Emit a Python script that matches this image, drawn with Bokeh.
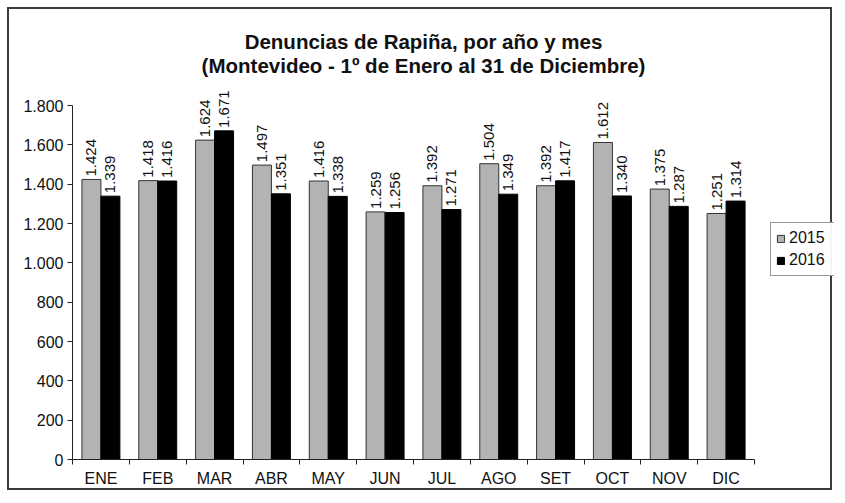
import math
from bokeh.plotting import figure
from bokeh.models import (Range1d, FixedTicker, CustomJSTickFormatter, Label,
                          Legend, LegendItem, ColumnDataSource)
from bokeh.core.properties import value
from bokeh.embed import file_html
from bokeh.resources import INLINE

months = ["ENE", "FEB", "MAR", "ABR", "MAY", "JUN", "JUL", "AGO", "SET", "OCT", "NOV", "DIC"]
y2015 = [1424, 1418, 1624, 1497, 1416, 1259, 1392, 1504, 1392, 1612, 1375, 1251]
y2016 = [1339, 1416, 1671, 1351, 1338, 1256, 1271, 1349, 1417, 1340, 1287, 1314]
y_ticks = [0, 200, 400, 600, 800, 1000, 1200, 1400, 1600, 1800]
series_names = ["2015", "2016"]
title_lines = ["Denuncias de Rapiña, por año y mes",
               "(Montevideo - 1º de Enero al 31 de Diciembre)"]

FONT = "Liberation Sans"
OFF = 9                      # canvas offset inside the bordered box
W, H = 825, 483
# geometry in canvas pixels
AX_LEFT, AX_RIGHT, AX_TOP, AX_BOTTOM = 72 - OFF, 754 - OFF, 105 - OFF, 459 - OFF
YMAX, NCAT = 1800, len(months)

frame_w = W - AX_LEFT
frame_h = AX_BOTTOM
x_end = NCAT * frame_w / (AX_RIGHT - AX_LEFT)
y_end = YMAX * frame_h / (AX_BOTTOM - AX_TOP)

def fmt(v):
    return f"{v:,}".replace(",", ".")

p = figure(width=W, height=H, output_backend="svg", toolbar_location=None,
           x_range=Range1d(0, x_end), y_range=Range1d(0, y_end),
           min_border_left=AX_LEFT, min_border_right=0, min_border_top=0,
           min_border_bottom=H - AX_BOTTOM)
p.styles = {"border": "2px solid #3c3c3c", "position": "relative",
            "left": "7px", "top": "7px"}
p.outline_line_color = None
p.grid.visible = False
p.background_fill_color = "white"
p.border_fill_color = "white"

bw = 0.334
centers = [i + 0.5 for i in range(NCAT)]
src = ColumnDataSource(dict(
    x1=[c - bw / 2 for c in centers], x2=[c + bw / 2 for c in centers],
    y1=y2015, y2=y2016,
    t1=[fmt(v) for v in y2015], t2=[fmt(v) for v in y2016],
    ty1=[v + 15 for v in y2015], ty2=[v + 15 for v in y2016],
))

r1 = p.vbar(x="x1", top="y1", bottom=0, width=bw, source=src,
            fill_color="#b3b3b3", line_color="#333333", line_width=1)
r2 = p.vbar(x="x2", top="y2", bottom=0, width=bw, source=src,
            fill_color="#000000", line_color="#000000", line_width=1)

for xs, ys, ts in (("x1", "ty1", "t1"), ("x2", "ty2", "t2")):
    p.text(x=xs, y=ys, text=ts, source=src, angle=math.pi / 2,
           text_align="left", text_baseline="middle",
           text_font=value(FONT), text_font_size="15px", text_color="#111111")

# x axis
xa = p.xaxis[0]
xa.bounds = (0, NCAT)
xa.ticker = FixedTicker(ticks=centers, minor_ticks=list(range(NCAT + 1)))
xa.formatter = CustomJSTickFormatter(args=dict(names=months),
                                     code="return names[Math.floor(tick)];")
xa.major_tick_out = 0
xa.major_tick_in = 0
xa.minor_tick_out = 5
xa.minor_tick_in = 0
xa.minor_tick_line_color = "#222222"
xa.major_label_standoff = 5
xa.axis_line_color = "#222222"
xa.major_label_text_font = FONT
xa.major_label_text_font_size = "16px"
xa.major_label_text_color = "#111111"

ya = p.yaxis[0]
ya.bounds = (0, YMAX)
ya.ticker = FixedTicker(ticks=y_ticks, minor_ticks=[])
ya.formatter = CustomJSTickFormatter(code="""
if (tick >= 1000) { return Math.floor(tick/1000) + '.' + String(tick % 1000).padStart(3, '0'); }
return String(tick);""")
ya.major_tick_out = 5
ya.major_tick_in = 0
ya.minor_tick_out = 0
ya.major_tick_line_color = "#222222"
ya.axis_line_color = "#222222"
ya.major_label_standoff = 4
ya.major_label_text_font = FONT
ya.major_label_text_font_size = "16px"
ya.major_label_text_color = "#111111"

# title (screen units relative to the frame's bottom-left)
for t, yy in zip(title_lines, [459 - 41, 459 - 65]):
    p.add_layout(Label(x=423 - 72, y=yy, x_units="screen", y_units="screen", text=t,
                       text_align="center", text_baseline="middle",
                       text_font=FONT, text_font_size="20.5px",
                       text_font_style="bold", text_color="#111111"))

legend = Legend(items=[LegendItem(label=series_names[0], renderers=[r1]),
                       LegendItem(label=series_names[1], renderers=[r2])],
                location=(770 - 72, 459 - 276), orientation="vertical")
legend.border_line_color = "#333333"
legend.border_line_width = 1
legend.background_fill_color = "white"
legend.label_text_font = FONT
legend.label_text_font_size = "16px"
legend.label_text_color = "#111111"
legend.glyph_width = 9
legend.glyph_height = 9
legend.label_height = 20
legend.label_width = 40
legend.label_standoff = 4
legend.spacing = 2
legend.padding = 5
legend.margin = 0
p.add_layout(legend, "center")

open("out.html", "w").write(file_html(p, INLINE))
